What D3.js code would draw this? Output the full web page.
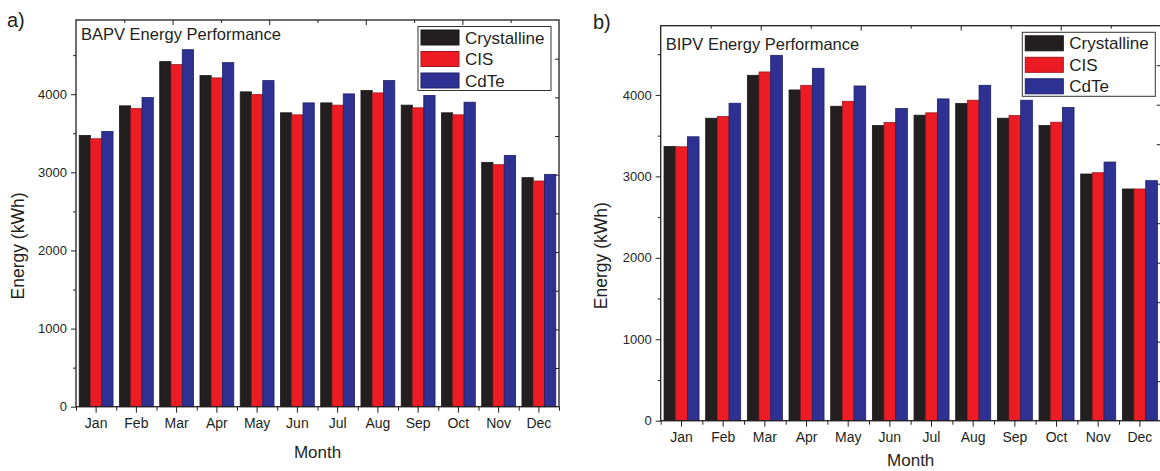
<!DOCTYPE html>
<html>
<head>
<meta charset="utf-8">
<script src="https://cdn.jsdelivr.net/npm/d3@7"></script>
<style>
  body { margin: 0; background: #fff; }
  svg { display: block; }
  svg text { font-family: "Liberation Sans", Arial, sans-serif; }
</style>
</head>
<body>
<div id="chart"></div>
<script>
// data //

const months = ["Jan", "Feb", "Mar", "Apr", "May", "Jun", "Jul", "Aug", "Sep", "Oct", "Nov", "Dec"];
const seriesNames = ["Crystalline", "CIS", "CdTe"];
const seriesColors = ["#231f20", "#ed1c24", "#2e3192"];
const seriesStroke = ["#1a1718", "#9e1a1f", "#1c1f66"];

const bapvCrystalline = [3472, 3851, 4417, 4238, 4030, 3762, 3889, 4047, 3860, 3762, 3128, 2932];
const bapvCIS         = [3430, 3817, 4379, 4209, 3996, 3736, 3860, 4017, 3826, 3736, 3098, 2889];
const bapvCdTe        = [3523, 3957, 4570, 4404, 4174, 3889, 4004, 4174, 3983, 3898, 3217, 2974];

const bipvCrystalline = [3367, 3714, 4241, 4061, 3861, 3624, 3751, 3894, 3714, 3624, 3029, 2845];
const bipvCIS         = [3363, 3735, 4282, 4118, 3922, 3661, 3780, 3935, 3747, 3665, 3045, 2845];
const bipvCdTe        = [3486, 3898, 4486, 4327, 4110, 3833, 3951, 4118, 3935, 3845, 3176, 2947];

const yTicks = [0, 1000, 2000, 3000, 4000];

const svg = d3.select("#chart")
  .append("svg")
    .attr("width", 1160)
    .attr("height", 471);

const ink = "#231f20";
const font = "'Liberation Sans', Arial, sans-serif";

function drawPanel(p) {
  const g = svg.append("g")
    .attr("transform", `translate(${p.left},${p.top})`);
  const w = p.width, h = p.height;

  // scales
  const x = d3.scaleBand()
    .domain(months)
    .range([0, w])
    .paddingInner(0.16)
    .paddingOuter(0.08);
  const xs = d3.scaleBand()
    .domain(seriesNames)
    .range([0, x.bandwidth()]);
  const y = d3.scaleLinear()
    .domain([0, p.yMax])
    .range([h, 0]);
  // the mirrored right axis uses its own 0-5000 range
  const yRight = d3.scaleLinear()
    .domain([0, 5000])
    .range([h, 0]);
  const xTop = d3.scaleLinear()
    .domain([0, 10])
    .range([0, w]);

  // bars
  const rows = months.map((m, i) => ({ month: m, values: p.values.map(s => s[i]) }));
  const grp = g.selectAll(".month")
    .data(rows)
    .join("g")
    .attr("transform", d => `translate(${x(d.month)},0)`);
  grp.selectAll("rect")
    .data(d => d.values.map((v, k) => ({ k, v })))
    .join("rect")
    .attr("x", d => xs(seriesNames[d.k]))
    .attr("y", d => y(d.v))
    .attr("width", xs.bandwidth())
    .attr("height", d => h - y(d.v))
    .attr("fill", d => seriesColors[d.k])
    .attr("stroke", d => seriesStroke[d.k])
    .attr("stroke-width", 0.8);

  // left axis
  g.append("g")
    .call(d3.axisLeft(y).tickValues(yTicks).tickSize(5).tickPadding(4).tickFormat(d3.format("d")))
    .attr("font-family", font)
    .attr("font-size", 13)
    .call(a => a.select(".domain").remove())
    .call(a => a.selectAll("line").attr("stroke", ink))
    .call(a => a.selectAll("text").attr("fill", ink));
  g.append("g")
    .call(d3.axisLeft(y).tickValues(d3.range(500, p.yMax, 1000)).tickSize(3).tickFormat(""))
    .call(a => a.select(".domain").remove())
    .call(a => a.selectAll("line").attr("stroke", ink));

  // right axis ticks (inward)
  g.append("g")
    .attr("transform", `translate(${w},0)`)
    .call(d3.axisLeft(yRight).tickValues(d3.range(500, 5000, 500)).tickSize(4).tickFormat(""))
    .call(a => a.select(".domain").remove())
    .call(a => a.selectAll("line").attr("stroke", ink));

  // top ticks (inward)
  g.append("g")
    .call(d3.axisBottom(xTop).tickValues([2, 4, 6, 8]).tickSize(5).tickFormat(""))
    .call(a => a.select(".domain").remove())
    .call(a => a.selectAll("line").attr("stroke", ink));
  g.append("g")
    .call(d3.axisBottom(xTop).tickValues([1, 3, 5, 7, 9]).tickSize(3).tickFormat(""))
    .call(a => a.select(".domain").remove())
    .call(a => a.selectAll("line").attr("stroke", ink));

  // bottom axis: months at centres, minor ticks at boundaries
  g.append("g")
    .attr("transform", `translate(0,${h})`)
    .call(d3.axisBottom(x).tickSize(6).tickPadding(5))
    .attr("font-family", font)
    .attr("font-size", 14)
    .call(a => a.select(".domain").remove())
    .call(a => a.selectAll("line").attr("stroke", ink))
    .call(a => a.selectAll("text").attr("fill", ink));
  g.append("g")
    .attr("transform", `translate(0,${h})`)
    .call(d3.axisBottom(xTop.copy().domain([0, 12])).tickValues(d3.range(0, 13)).tickSize(4).tickFormat(""))
    .call(a => a.select(".domain").remove())
    .call(a => a.selectAll("line").attr("stroke", ink));

  // frame
  g.append("rect")
    .attr("width", w)
    .attr("height", h)
    .attr("fill", "none")
    .attr("stroke", ink)
    .attr("stroke-width", 1.3);

  // title inside plot
  g.append("text")
    .attr("x", 5)
    .attr("y", p.titleY)
    .style("font-size", "16.5px")
    .attr("fill", ink)
    .text(p.title);

  // legend
  const lg = g.append("g")
    .attr("transform", `translate(${p.legendX},${p.legendY})`);
  lg.append("rect")
    .attr("width", 133)
    .attr("height", 64)
    .attr("fill", "#fff")
    .attr("stroke", "#333")
    .attr("stroke-width", 1);
  seriesNames.forEach((s, k) => {
    lg.append("rect")
      .attr("x", 3)
      .attr("y", 3.5 + k * 21.5)
      .attr("width", 38)
      .attr("height", 15)
      .attr("fill", seriesColors[k])
      .attr("stroke", seriesStroke[k])
      .attr("stroke-width", 1);
    lg.append("text")
      .attr("x", 47)
      .attr("y", 17 + k * 21.5)
      .style("font-size", "17px")
      .attr("fill", ink)
      .text(s);
  });

  // axis labels
  g.append("text")
    .attr("x", w / 2)
    .attr("y", p.xLabelY)
    .attr("text-anchor", "middle")
    .style("font-size", "17px")
    .attr("fill", ink)
    .text("Month");
  g.append("text")
    .attr("transform", `translate(${p.yLabelX},${p.yLabelY}) rotate(-90)`)
    .attr("text-anchor", "middle")
    .style("font-size", "17.5px")
    .attr("fill", ink)
    .text("Energy (kWh)");

  // panel letter
  svg.append("text")
    .attr("x", p.letterX)
    .attr("y", p.letterY)
    .style("font-size", "20px")
    .attr("fill", ink)
    .text(p.letter);
}

drawPanel({
  left: 76, top: 20, width: 483, height: 386.7, yMax: 4950,
  values: [bapvCrystalline, bapvCIS, bapvCdTe],
  title: "BAPV Energy Performance", titleY: 19.5,
  legendX: 342, legendY: 6.5,
  xLabelY: 438, yLabelX: -52, yLabelY: 226,
  letter: "a)", letterX: 7, letterY: 27
});

drawPanel({
  left: 660.7, top: 25.7, width: 500, height: 395, yMax: 4850,
  values: [bipvCrystalline, bipvCIS, bipvCdTe],
  title: "BIPV Energy Performance", titleY: 24.5,
  legendX: 361.6, legendY: 6.6,
  xLabelY: 440, yLabelX: -54, yLabelY: 230,
  letter: "b)", letterX: 593, letterY: 29
});
</script>
</body>
</html>
